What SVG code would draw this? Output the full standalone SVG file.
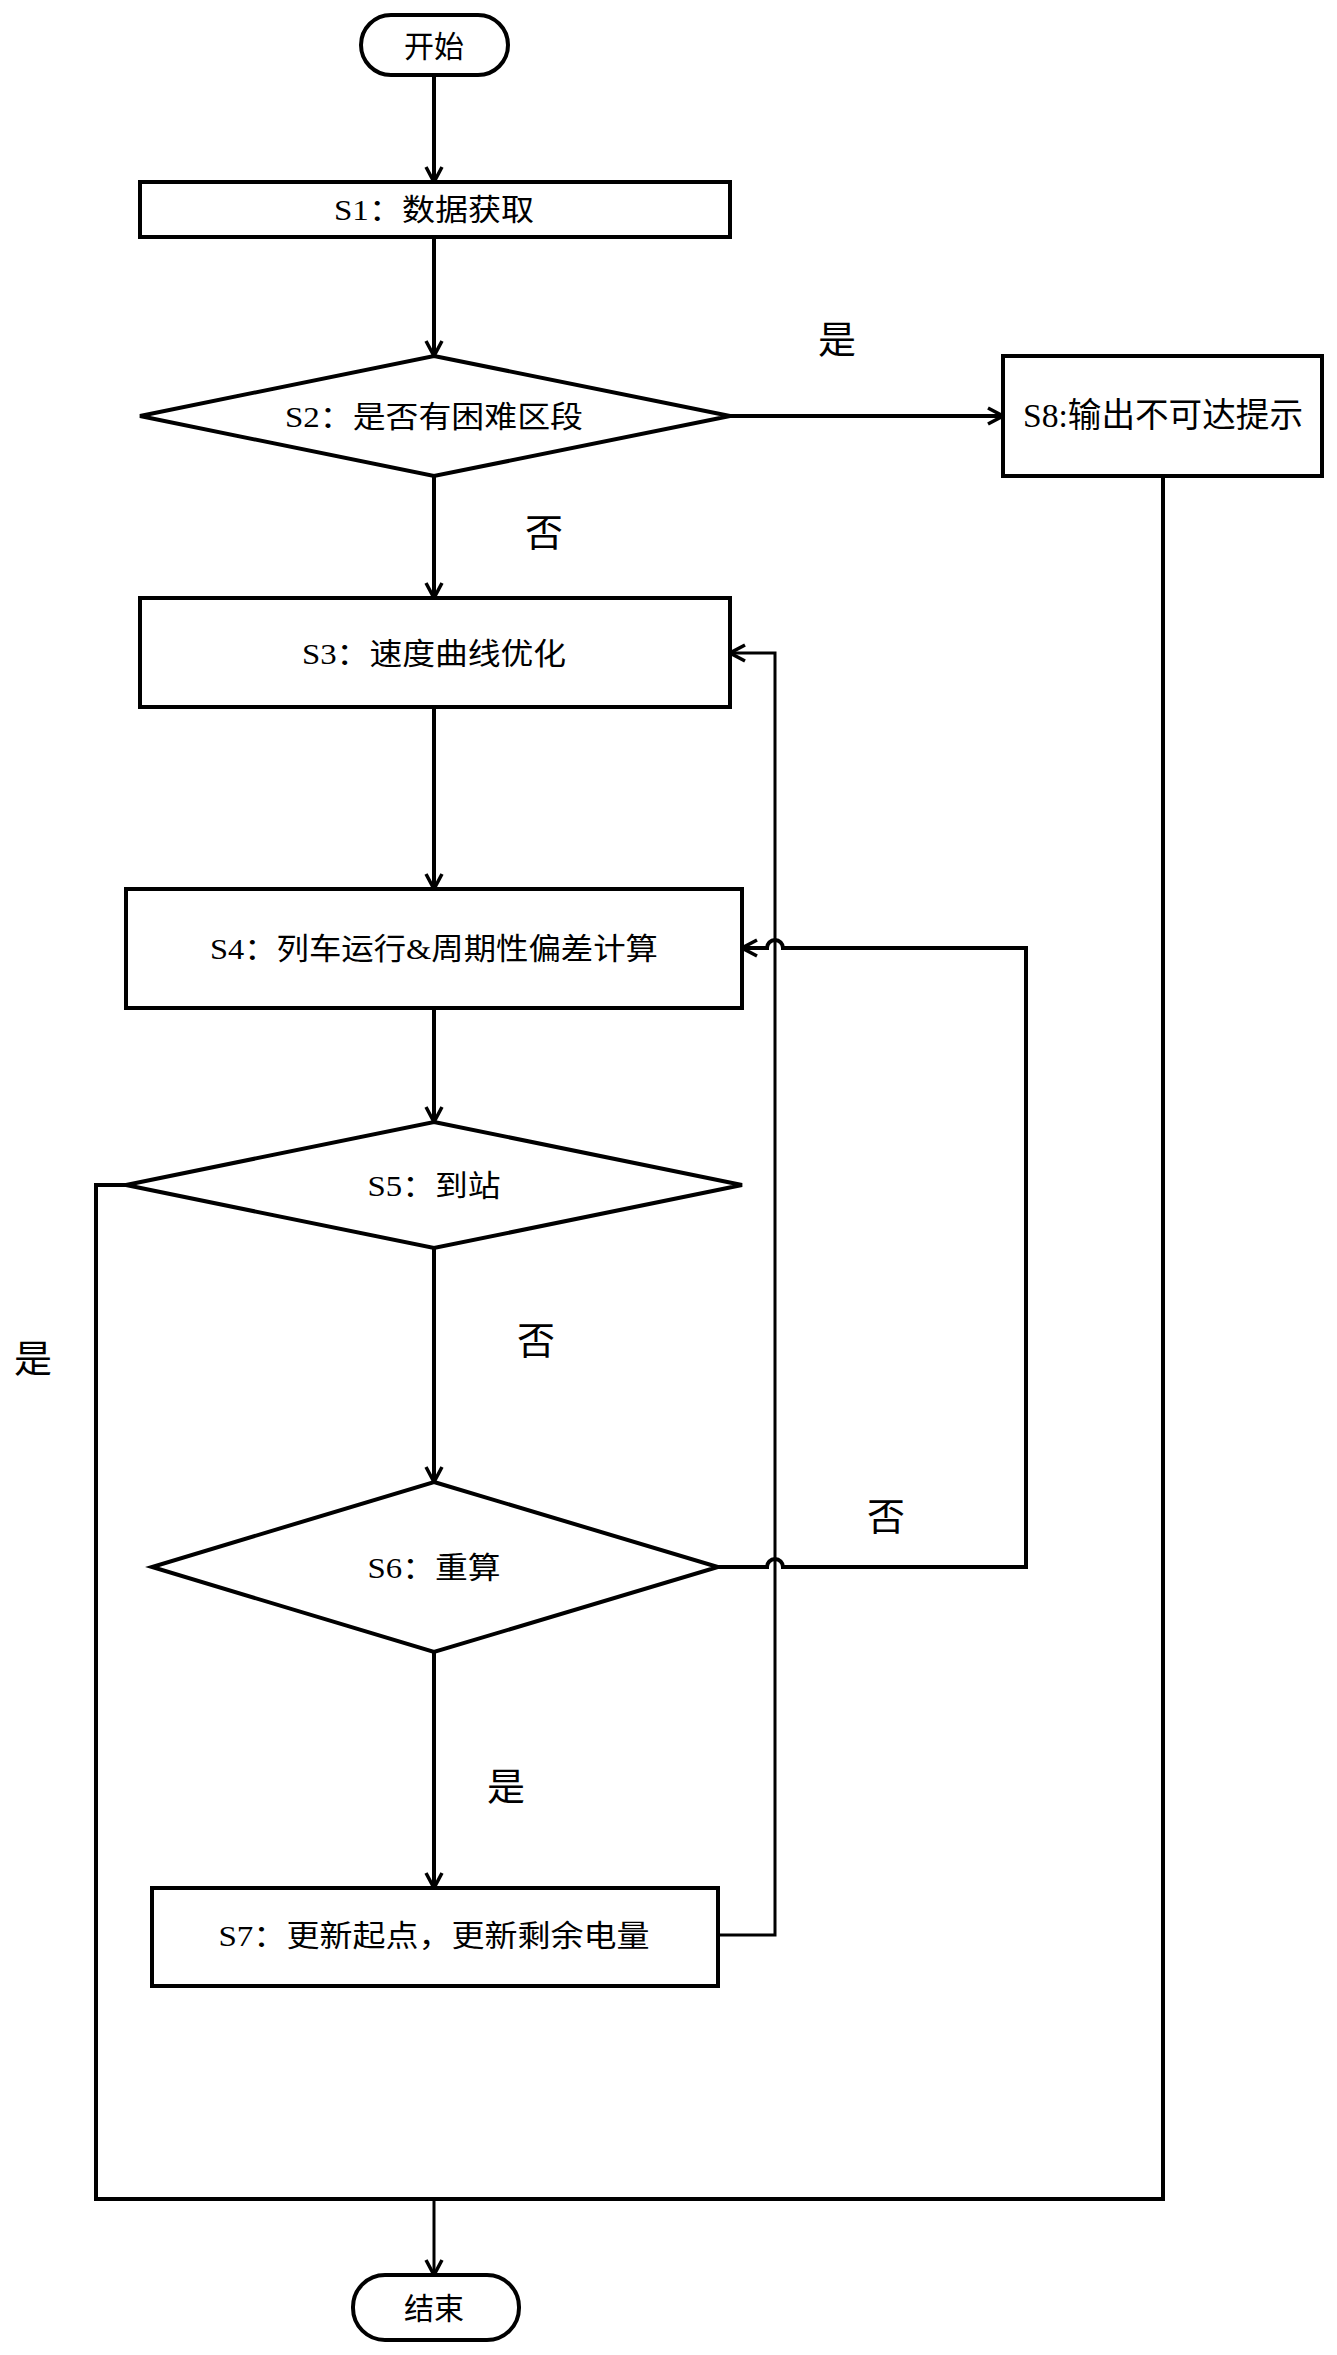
<svg xmlns="http://www.w3.org/2000/svg" width="1337" height="2355" viewBox="0 0 1337 2355">
<style>
.n{fill:#fff;stroke:#000;stroke-width:4}
.c{fill:none;stroke:#000;stroke-width:4}
.t{font-family:"Liberation Serif","Noto Sans CJK SC",serif;font-size:30px;fill:#000;text-anchor:middle;dominant-baseline:central}
.lb{font-family:"Liberation Serif","Noto Sans CJK SC",serif;font-size:38px;fill:#000;text-anchor:middle;dominant-baseline:central}
</style>
<defs>
<marker id="ar" viewBox="-1 -10 18 20" refX="15" refY="0" markerWidth="18" markerHeight="20" markerUnits="userSpaceOnUse" orient="auto">
<path d="M0,-8 L15,0 L0,8" fill="none" stroke="#000" stroke-width="3.5"/>
</marker>
</defs>
<g id="connectors">
<path class="c" d="M434 75 L434 182" marker-end="url(#ar)"/>
<path class="c" d="M434 237 L434 356" marker-end="url(#ar)"/>
<path class="c" d="M730 416 L1003 416" marker-end="url(#ar)"/>
<path class="c" d="M434 476 L434 598" marker-end="url(#ar)"/>
<path class="c" d="M434 707 L434 889" marker-end="url(#ar)"/>
<path class="c" d="M434 1008 L434 1122" marker-end="url(#ar)"/>
<path class="c" d="M434 1248 L434 1482" marker-end="url(#ar)"/>
<path class="c" d="M434 1652 L434 1888" marker-end="url(#ar)"/>
<path class="c" style="stroke-width:3" d="M718 1935 L775 1935 L775 653 L730 653" marker-end="url(#ar)"/>
<path class="c" d="M718 1567 L767 1567 A8 8 0 0 1 783 1567 L1026 1567 L1026 948 L783 948 A8 8 0 0 0 767 948 L742 948" marker-end="url(#ar)"/>
<path class="c" d="M126 1185 L96 1185 L96 2199 L1163 2199 L1163 476"/>
<path class="c" style="stroke-width:3" d="M434 2199 L434 2275" marker-end="url(#ar)"/>
</g>
<g id="start"><rect class="n" x="361" y="15" width="147" height="60" rx="30"/><text class="t" x="434" y="46">开始</text></g>
<g id="s1"><rect class="n" x="140" y="182" width="590" height="55"/><text class="t" x="434" y="209" textLength="200" lengthAdjust="spacingAndGlyphs">S1：数据获取</text></g>
<g id="s2"><polygon class="n" points="434,356 730,416 434,476 140,416"/><text class="t" x="434" y="416" textLength="298" lengthAdjust="spacingAndGlyphs">S2：是否有困难区段</text></g>
<g id="s8"><rect class="n" x="1003" y="356" width="319" height="120"/><text class="t" style="font-size:34px" x="1163" y="415" textLength="280" lengthAdjust="spacingAndGlyphs">S8:输出不可达提示</text></g>
<g id="s3"><rect class="n" x="140" y="598" width="590" height="109"/><text class="t" x="434" y="653" textLength="264" lengthAdjust="spacingAndGlyphs">S3：速度曲线优化</text></g>
<g id="s4"><rect class="n" x="126" y="889" width="616" height="119"/><text class="t" x="434" y="948" textLength="448" lengthAdjust="spacingAndGlyphs">S4：列车运行&amp;周期性偏差计算</text></g>
<g id="s5"><polygon class="n" points="434,1122 742,1185 434,1248 126,1185"/><text class="t" x="434" y="1185" textLength="133" lengthAdjust="spacingAndGlyphs">S5：到站</text></g>
<g id="s6"><polygon class="n" points="434,1482 718,1567 434,1652 152,1567"/><text class="t" x="434" y="1567" textLength="133" lengthAdjust="spacingAndGlyphs">S6：重算</text></g>
<g id="s7"><rect class="n" x="152" y="1888" width="566" height="98"/><text class="t" x="434" y="1935" textLength="431" lengthAdjust="spacingAndGlyphs">S7：更新起点，更新剩余电量</text></g>
<g id="end"><rect class="n" x="353" y="2275" width="166" height="65" rx="32"/><text class="t" x="434" y="2308">结束</text></g>
<g id="labels">
<text class="lb" x="837" y="340">是</text>
<text class="lb" x="544" y="533">否</text>
<text class="lb" x="33" y="1359">是</text>
<text class="lb" x="536" y="1341">否</text>
<text class="lb" x="886" y="1517">否</text>
<text class="lb" x="506" y="1787">是</text>
</g>
</svg>
